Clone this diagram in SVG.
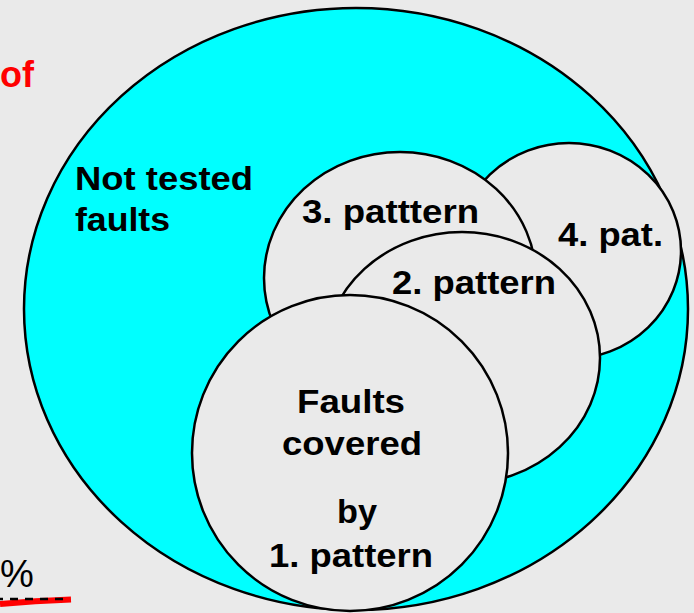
<svg xmlns="http://www.w3.org/2000/svg" width="694" height="613" viewBox="0 0 694 613">
<style>
.shape{stroke:#000;stroke-width:2.5}
.set{fill:#EAEAEA}
.lbl{font-family:"Liberation Sans",Arial,sans-serif;font-weight:bold;font-size:34px;fill:#000}
</style>
<rect width="694" height="613" fill="#EAEAEA"/>
<text x="0" y="87" font-family="Liberation Sans, Arial, sans-serif" font-weight="bold" font-size="36" fill="#FF0000">of</text>
<g id="not-tested">
<ellipse class="shape" cx="356" cy="309" rx="332" ry="301" fill="#00FFFF"/>
<text class="lbl" x="75" y="190" textLength="178" lengthAdjust="spacingAndGlyphs">Not tested</text>
<text class="lbl" x="75" y="231" textLength="95" lengthAdjust="spacingAndGlyphs">faults</text>
</g>
<g id="pattern4">
<ellipse class="shape set" cx="569" cy="251" rx="112" ry="108"/>
<text class="lbl" x="558" y="246" textLength="105" lengthAdjust="spacingAndGlyphs">4. pat.</text>
</g>
<g id="pattern3">
<ellipse class="shape set" cx="400" cy="278" rx="136" ry="126"/>
<text class="lbl" x="302" y="223" textLength="177" lengthAdjust="spacingAndGlyphs">3. patttern</text>
</g>
<g id="pattern2">
<ellipse class="shape set" cx="462" cy="358" rx="138" ry="126"/>
<text class="lbl" x="392" y="294" textLength="164" lengthAdjust="spacingAndGlyphs">2. pattern</text>
</g>
<g id="pattern1">
<circle class="shape set" cx="350" cy="453" r="158"/>
<text class="lbl" x="297" y="413" textLength="108" lengthAdjust="spacingAndGlyphs">Faults</text>
<text class="lbl" x="282" y="455" textLength="140" lengthAdjust="spacingAndGlyphs">covered</text>
<text class="lbl" x="337" y="523" textLength="40" lengthAdjust="spacingAndGlyphs">by</text>
<text class="lbl" x="269" y="567" textLength="164" lengthAdjust="spacingAndGlyphs">1. pattern</text>
</g>
<g id="connectors"></g>
<text x="0" y="587" font-family="Liberation Sans, Arial, sans-serif" font-size="38" fill="#000">%</text>
<path d="M0 604 Q35 601 71 599.5" fill="none" stroke="#FF0000" stroke-width="6"/>
<line x1="0" y1="599" x2="70" y2="599" stroke="#000" stroke-width="2.5" stroke-dasharray="8 7" stroke-dashoffset="5"/>
</svg>
